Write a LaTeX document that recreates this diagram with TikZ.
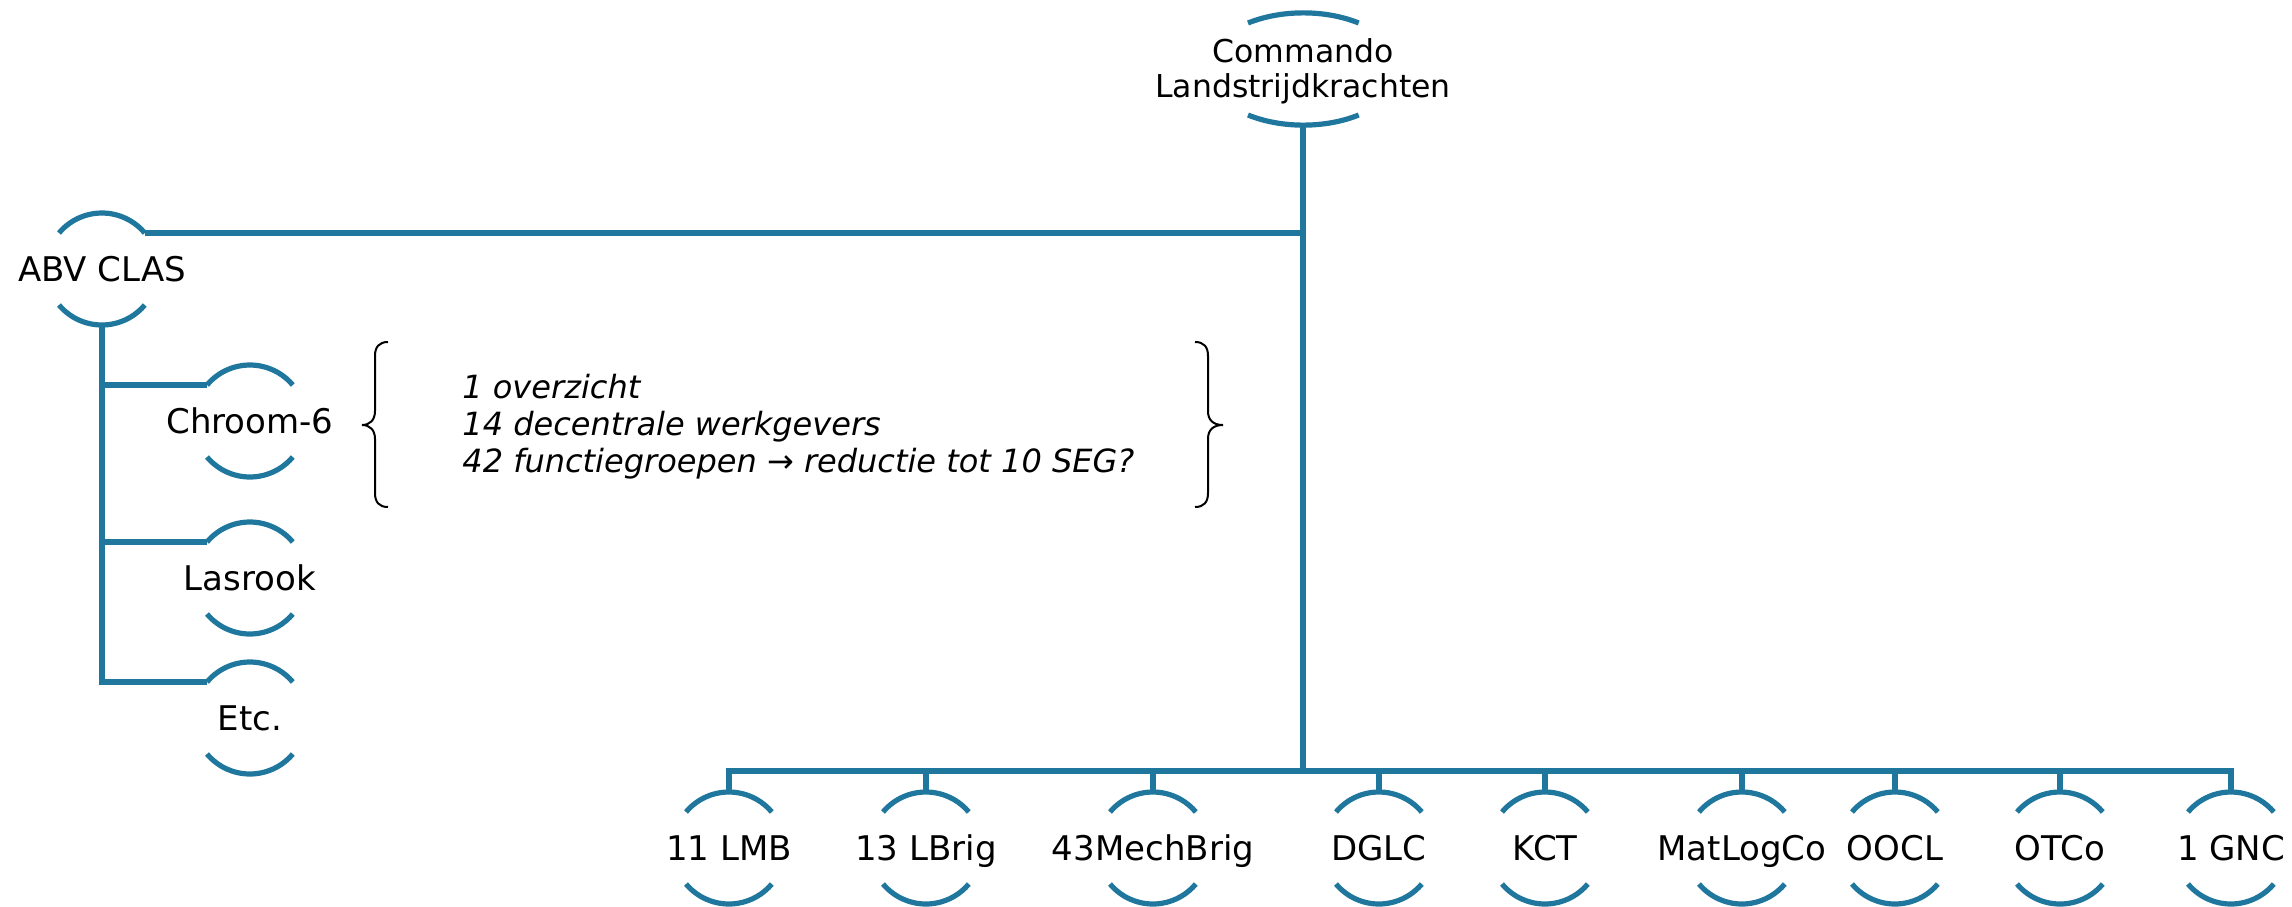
\documentclass[tikz,border=0pt]{standalone}
\usepackage{fontspec}
\setmainfont{DejaVu Sans}
\usetikzlibrary{calc}
\definecolor{orgblue}{RGB}{31,119,158}
\tikzset{
  arcline/.style={draw=orgblue, line width=2.6pt},
  connline/.style={draw=orgblue, line width=2.7pt},
  unitlbl/.style={inner sep=0pt, text height=12.4pt, text depth=0pt,
    font=\fontsize{17pt}{20pt}\selectfont, text=black},
  toplbl/.style={inner sep=0pt, align=center,
    font=\fontsize{15.75pt}{17.5pt}\selectfont, text=black},
  notelbl/.style={inner sep=0pt, align=left,
    font=\fontsize{16pt}{18.5pt}\selectfont\itshape, text=black},
  bracestroke/.style={draw=black, line width=1pt},
}
% name, x, y, text
\newcommand{\orgunit}[4]{%
  \node[unitlbl] (#1) at (#2,#3) {#4};
  \coordinate (#1-t) at (#2,#3-56);
  \coordinate (#1-b) at (#2,#3+56);
  \coordinate (#1-tl) at (#2-43,#3-36);
  \coordinate (#1-tr) at (#2+43,#3-36);
  \coordinate (#1-bl) at (#2-43,#3+36);
  \draw[arcline] (#1-tl) arc[start angle=140, end angle=40, radius=28pt];
  \draw[arcline] (#1-bl) arc[start angle=220, end angle=320, radius=28pt];
}
\begin{document}
\begin{tikzpicture}[x=0.5pt,y=-0.5pt]
\useasboundingbox (0,0) rectangle (2292,906);

% top node
\node[toplbl] (cmd) at (1303,71) {Commando\\Landstrijdkrachten};
\coordinate (cmd-tl) at (1248,23);
\coordinate (cmd-bl) at (1248,115);
\coordinate (cmd-b) at (1303,125);
\draw[arcline] (cmd-tl) arc[start angle=125, end angle=55, x radius=48.25pt, y radius=28pt];
\draw[arcline] (cmd-bl) arc[start angle=235, end angle=305, x radius=48.25pt, y radius=28pt];

% left column
\orgunit{abv}{102}{269}{ABV CLAS}
\orgunit{chroom}{250}{421}{Chroom-6}
\orgunit{lasrook}{250}{578}{Lasrook}
\orgunit{etc}{250}{718}{Etc.}

% bottom row
\orgunit{lmb}{729}{848}{11 LMB}
\orgunit{lbrig}{926}{848}{13 LBrig}
\orgunit{mech}{1153}{848}{43MechBrig}
\orgunit{dglc}{1379}{848}{DGLC}
\orgunit{kct}{1545}{848}{KCT}
\orgunit{matlog}{1742}{848}{MatLogCo}
\orgunit{oocl}{1895}{848}{OOCL}
\orgunit{otco}{2060}{848}{OTCo}
\orgunit{gnc}{2231}{848}{1 GNC}

% connectors
\coordinate (busy) at (1303,771);
\draw[connline] (cmd-b) -- (busy);
\draw[connline] (abv-tr) -- (abv-tr -| cmd-b);
\draw[connline] (lmb-t) -- (lmb-t |- busy) -- (gnc-t |- busy) -- (gnc-t);
\foreach \n in {lbrig,mech,dglc,kct,matlog,oocl,otco}
  \draw[connline] (\n-t) -- (\n-t |- busy);
\draw[connline] (abv-b) -- (abv-b |- etc-tl) -- (etc-tl);
\draw[connline] (abv-b |- chroom-tl) -- (chroom-tl);
\draw[connline] (abv-b |- lasrook-tl) -- (lasrook-tl);

% note with braces
\node[notelbl, anchor=north west] (note) at (462,374)
  {1 overzicht\\14 decentrale werkgevers\\42 functiegroepen → reductie tot 10 SEG?};
\draw[bracestroke] (388,342) .. controls (379,342) and (375,347) .. (375,356)
  -- (375,411) .. controls (375,420) and (370,425) .. (362,425)
  .. controls (370,425) and (375,430) .. (375,439)
  -- (375,493) .. controls (375,502) and (379,507) .. (388,507);
\draw[bracestroke] (1195,342) .. controls (1204,342) and (1208,347) .. (1208,356)
  -- (1208,411) .. controls (1208,420) and (1213,425) .. (1223,425)
  .. controls (1213,425) and (1208,430) .. (1208,439)
  -- (1208,493) .. controls (1208,502) and (1204,507) .. (1195,507);
\end{tikzpicture}
\end{document}
